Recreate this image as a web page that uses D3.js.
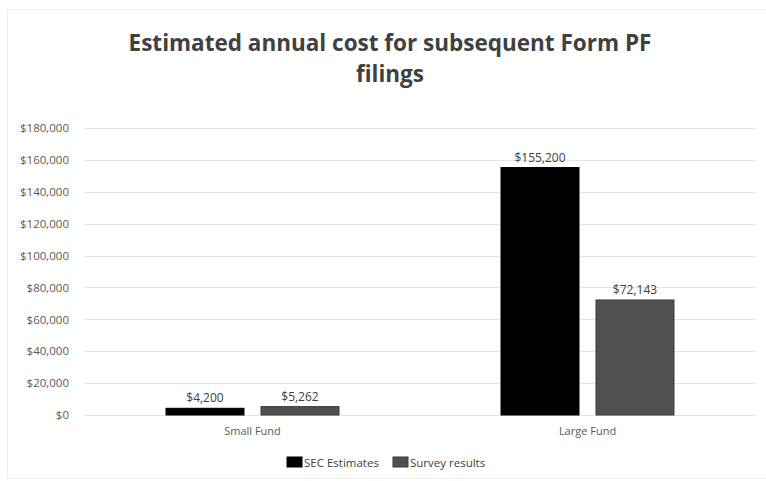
<!DOCTYPE html>
<html>
<head>
<meta charset="utf-8">
<script src="https://cdn.jsdelivr.net/npm/d3@7"></script>
<style>
  body { margin: 0; background: #fff; }
  svg { font-family: "Open Sans", "DejaVu Sans", sans-serif; }
</style>
</head>
<body>
<svg id="chart" width="766" height="481"></svg>
<script>
var categories = ["Small Fund", "Large Fund"];
var seriesNames = ["SEC Estimates", "Survey results"];
var secValues = [4200, 155200];
var surveyValues = [5262, 72143];
var yTicks = [0, 20000, 40000, 60000, 80000, 100000, 120000, 140000, 160000, 180000];
var colors = ["#000000", "#505050"];

var svg = d3.select("#chart"),
    margin = {top: 128, right: 11, bottom: 66, left: 85},
    w = +svg.attr("width") - margin.left - margin.right,
    h = +svg.attr("height") - margin.top - margin.bottom;

// light frame
svg.append("rect")
    .attr("x", 7.5).attr("y", 9.5)
    .attr("width", 770).attr("height", 469)
    .attr("fill", "none").attr("stroke", "#ebebeb");

svg.append("text")
    .attr("x", 390).attr("y", 51)
    .attr("text-anchor", "middle")
    .style("font-size", "22.5px").style("font-weight", "bold").style("fill", "#404040")
    .text("Estimated annual cost for subsequent Form PF");
svg.append("text")
    .attr("x", 390).attr("y", 82)
    .attr("text-anchor", "middle")
    .style("font-size", "22.5px").style("font-weight", "bold").style("fill", "#404040")
    .text("filings");

var data = categories.map(function(c, i) {
  return {cat: c, values: [secValues[i], surveyValues[i]]};
});

var x0 = d3.scaleBand().domain(categories).range([0, w]);
var x1 = d3.scaleBand().domain(seriesNames).range([0, 173]).paddingInner(0.179);
var y = d3.scaleLinear().domain([0, 180000]).range([h, 0]);

var g = svg.append("g")
    .attr("transform", "translate(" + margin.left + "," + margin.top + ")");

g.append("g")
    .attr("class", "grid")
    .selectAll("line")
    .data(yTicks)
  .enter().append("line")
    .attr("x1", 0).attr("x2", w)
    .attr("y1", function(d) { return Math.round(y(d)) + 0.5; })
    .attr("y2", function(d) { return Math.round(y(d)) + 0.5; })
    .attr("stroke", "#e3e3e3").attr("stroke-width", 1);

var yAxis = g.append("g")
    .attr("transform", "translate(-13,0)")
    .call(d3.axisLeft(y).tickValues(yTicks).tickSize(0).tickFormat(d3.format("$,.0f")));
yAxis.select(".domain").remove();
yAxis.selectAll("text")
    .style("fill", "#595959")
    .style("font-size", "11.5px")
    .style("font-family", "'Open Sans', sans-serif");

var xAxis = g.append("g")
    .attr("transform", "translate(0," + h + ")")
    .call(d3.axisBottom(x0).tickSize(0).tickPadding(12));
xAxis.select(".domain").remove();
xAxis.selectAll("text")
    .style("fill", "#595959")
    .style("font-size", "11px")
    .style("font-family", "'Open Sans', sans-serif");

var groups = g.selectAll(".cat")
    .data(data)
  .enter().append("g")
    .attr("class", "cat")
    .attr("transform", function(d) { return "translate(" + (x0(d.cat) + (x0.bandwidth() - 173) / 2) + ",0)"; });

groups.selectAll("rect")
    .data(function(d) { return d.values.map(function(v, i) { return {s: seriesNames[i], v: v, i: i}; }); })
  .enter().append("rect")
    .attr("x", function(d) { return x1(d.s); })
    .attr("width", x1.bandwidth())
    .attr("y", function(d) { return y(d.v); })
    .attr("height", function(d) { return h - y(d.v); })
    .attr("fill", function(d) { return colors[d.i]; })
    .attr("stroke", function(d) { return d.i ? "#3a3a3a" : "#000"; })
    .attr("stroke-width", 1);

groups.selectAll(".lbl")
    .data(function(d) { return d.values.map(function(v, i) { return {s: seriesNames[i], v: v}; }); })
  .enter().append("text")
    .attr("class", "lbl")
    .attr("x", function(d) { return x1(d.s) + x1.bandwidth() / 2; })
    .attr("y", function(d) { return y(d.v) - 6; })
    .attr("text-anchor", "middle")
    .style("fill", "#404040")
    .style("font-size", "12px")
    .text(function(d) { return d3.format("$,")(d.v); });

// legend
var legend = svg.append("g").attr("transform", "translate(287,457)");
var items = legend.selectAll("g")
    .data(seriesNames)
  .enter().append("g")
    .attr("transform", function(d, i) { return "translate(" + (i * 106) + ",0)"; });
items.append("rect")
    .attr("width", 15).attr("height", 10)
    .attr("fill", function(d, i) { return colors[i]; })
    .attr("stroke", function(d, i) { return i ? "#3a3a3a" : "#000"; });
items.append("text")
    .attr("x", 17).attr("y", 9.5)
    .style("fill", "#404040")
    .style("font-size", "11.5px")
    .text(function(d) { return d; });
</script>
</body>
</html>
